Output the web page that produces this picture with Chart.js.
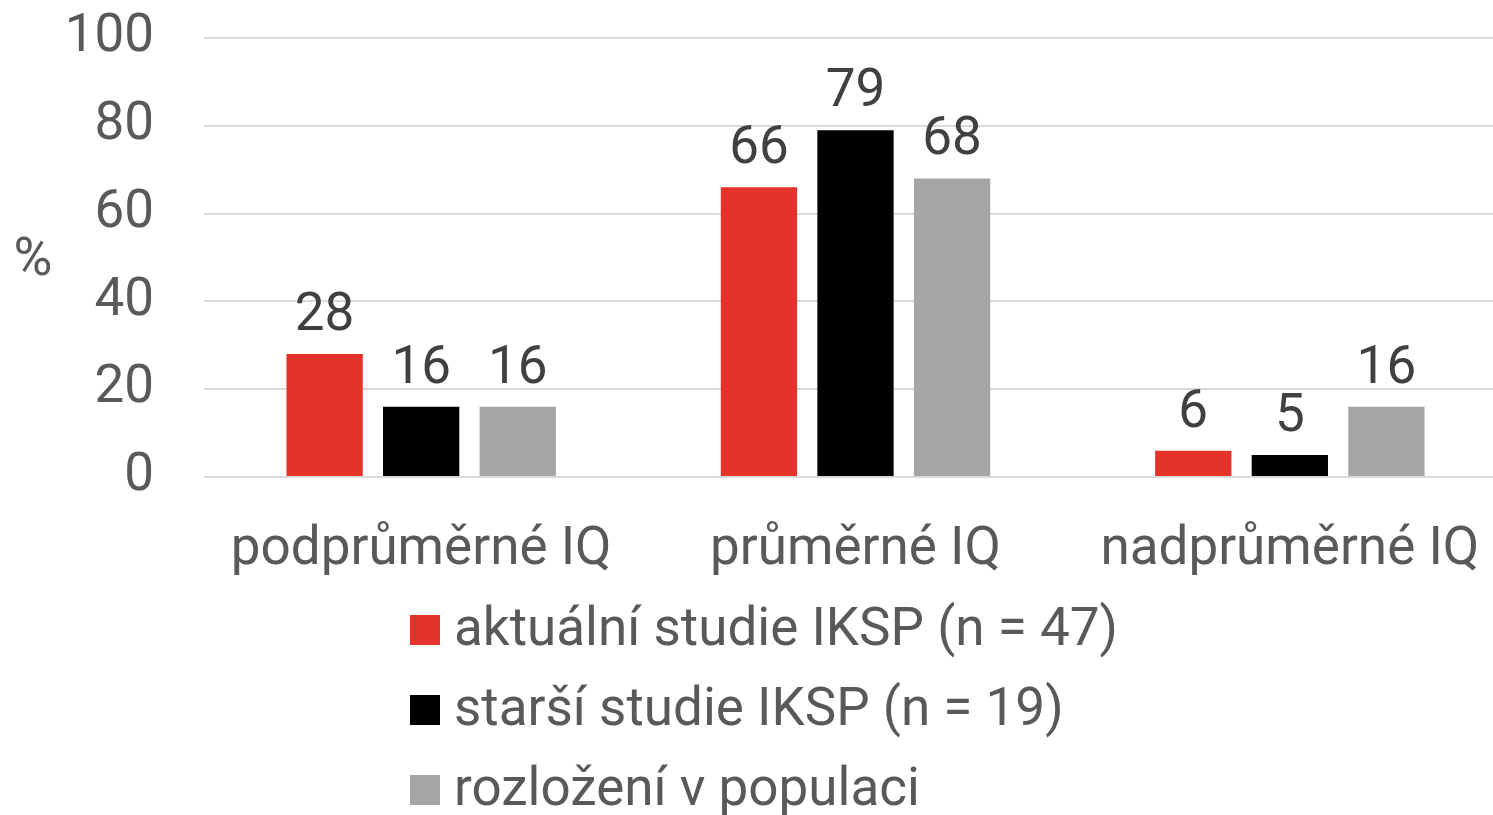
<!DOCTYPE html>
<html>
<head>
<meta charset="utf-8">
<script src="https://cdn.jsdelivr.net/npm/chart.js@4"></script>
<style>
  html, body { margin: 0; padding: 0; background: #fff; }
  #wrap { width: 1493px; height: 815px; overflow: hidden; }
</style>
</head>
<body>
<div id="wrap"><canvas id="myChart" width="1507" height="815"></canvas></div>
<script>
var categories = ['podprůměrné IQ', 'průměrné IQ', 'nadprůměrné IQ'];
var seriesNames = ['aktuální studie IKSP (n = 47)', 'starší studie IKSP (n = 19)', 'rozložení v populaci'];
var aktualni = [28, 66, 6];
var starsi = [16, 79, 5];
var populace = [16, 68, 16];
var yTicks = [0, 20, 40, 60, 80, 100];
var colors = ['#e5332a', '#000000', '#a5a5a5'];

var FONT = 'Roboto, "Noto Sans", sans-serif';
var FS = 53;

// value labels above bars
var barLabels = {
    id: 'barLabels',
    afterDatasetsDraw: function(chart) {
        var ctx = chart.ctx;
        ctx.save();
        ctx.font = FS + 'px ' + FONT;
        ctx.fillStyle = '#404040';
        ctx.textAlign = 'center';
        ctx.textBaseline = 'alphabetic';
        chart.data.datasets.forEach(function(ds, i) {
            chart.getDatasetMeta(i).data.forEach(function(bar, j) {
                ctx.fillText(String(ds.data[j]), bar.x, bar.y - 24);
            });
        });
        ctx.restore();
    }
};

// "%" title and stacked legend under the axis
var extras = {
    id: 'extras',
    afterDraw: function(chart) {
        var ctx = chart.ctx;
        ctx.save();
        ctx.font = FS + 'px ' + FONT;
        ctx.fillStyle = '#595959';
        ctx.textAlign = 'center';
        ctx.textBaseline = 'middle';
        ctx.fillText('%', 33, 262);

        ctx.textAlign = 'left';
        chart.data.datasets.forEach(function(ds, i) {
            var y = 630 + i * 80;
            ctx.fillStyle = ds.backgroundColor;
            ctx.fillRect(410, y - 15, 30, 30);
            ctx.fillStyle = '#595959';
            ctx.fillText(ds.label, 454, y + 2);
        });
        ctx.restore();
    }
};

var ctx = document.getElementById('myChart').getContext('2d');
var chart = new Chart(ctx, {
    type: 'bar',
    data: {
        labels: categories,
        datasets: [
            { label: seriesNames[0], data: aktualni, backgroundColor: colors[0] },
            { label: seriesNames[1], data: starsi, backgroundColor: colors[1] },
            { label: seriesNames[2], data: populace, backgroundColor: colors[2] }
        ]
    },
    options: {
        responsive: false,
        animation: false,
        categoryPercentage: 0.667,
        barPercentage: 0.79,
        layout: { padding: { top: 38, right: 0, left: 0, bottom: 238 } },
        plugins: {
            legend: { display: false },
            tooltip: { enabled: false }
        },
        scales: {
            x: {
                grid: { display: false },
                border: { display: false },
                ticks: {
                    color: '#595959',
                    font: { family: FONT, size: FS },
                    padding: 34,
                    maxRotation: 0
                },
                afterFit: function(scale) {
                    scale.height = 100;
                    scale.paddingLeft = 0;
                    scale.paddingRight = 0;
                }
            },
            y: {
                min: 0,
                max: 100,
                afterBuildTicks: function(scale) {
                    scale.ticks = yTicks.map(function(v) { return { value: v }; });
                },
                grid: { color: '#d9d9d9', lineWidth: 2, drawTicks: false },
                border: { display: false },
                ticks: {
                    color: '#595959',
                    font: { family: FONT, size: FS },
                    padding: 50
                },
                afterFit: function(scale) {
                    scale.width = 204;
                    scale.paddingTop = 0;
                    scale.paddingBottom = 0;
                }
            }
        }
    },
    plugins: [barLabels, extras]
});
</script>
</body>
</html>
